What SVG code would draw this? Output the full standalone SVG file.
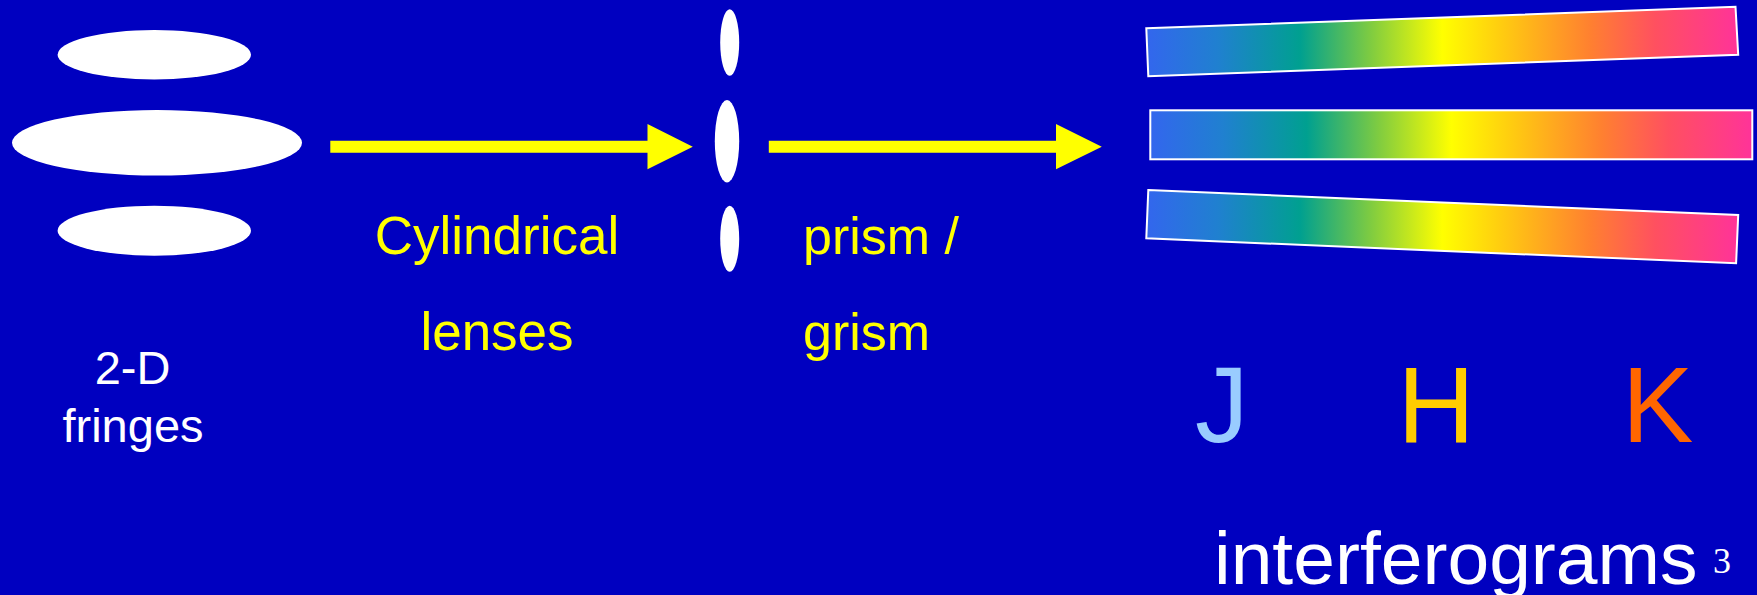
<svg xmlns="http://www.w3.org/2000/svg" width="1757" height="595" viewBox="0 0 1757 595">
<style>
.w{fill:#ffffff}
.y{fill:#ffff00}
.t{font-family:"Liberation Sans",Arial,sans-serif}
.bar{fill:url(#spec);stroke:#ffffff;stroke-width:2}
</style>
<defs>
<linearGradient id="spec" x1="0" y1="0" x2="1" y2="0">
<stop offset="0" stop-color="#3366ee"/>
<stop offset="0.12" stop-color="#2080d0"/>
<stop offset="0.26" stop-color="#00a090"/>
<stop offset="0.38" stop-color="#80cc40"/>
<stop offset="0.5" stop-color="#ffff00"/>
<stop offset="0.6" stop-color="#ffcc10"/>
<stop offset="0.75" stop-color="#ff8030"/>
<stop offset="0.86" stop-color="#ff5060"/>
<stop offset="1" stop-color="#ff3399"/>
</linearGradient>
</defs>
<rect width="1757" height="595" fill="#0000c0"/>
<g id="fringes">
<ellipse class="w" cx="154.3" cy="54.7" rx="96.7" ry="24.7"/>
<ellipse class="w" cx="157" cy="142.8" rx="145" ry="32.8"/>
<ellipse class="w" cx="154.3" cy="230.7" rx="96.7" ry="25"/>
<text class="t w" x="132.6" y="384" font-size="47" text-anchor="middle">2-D</text>
<text class="t w" x="133" y="442" font-size="47" text-anchor="middle">fringes</text>
</g>
<g id="lens-label">
<text class="t y" x="497" y="253.5" font-size="53" text-anchor="middle">Cylindrical</text>
<text class="t y" x="497" y="350" font-size="53" text-anchor="middle">lenses</text>
</g>
<g id="slits">
<ellipse class="w" cx="729.7" cy="42.5" rx="9.5" ry="33.2"/>
<ellipse class="w" cx="727" cy="141.2" rx="12.2" ry="41.2"/>
<ellipse class="w" cx="729.7" cy="238.7" rx="9.5" ry="33"/>
</g>
<g id="prism-label">
<text class="t y" x="803" y="253.5" font-size="52">prism /</text>
<text class="t y" x="803" y="350" font-size="52">grism</text>
</g>
<g id="spectra">
<polygon class="bar" points="1146.3,28.3 1735.5,6.7 1738.2,54.7 1148.3,76.3"/>
<rect class="bar" x="1150.3" y="110.3" width="602" height="49"/>
<polygon class="bar" points="1148.3,190 1738.2,215 1736.1,263.3 1146.3,238.3"/>
</g>
<g id="bands">
<text class="t" x="1195" y="441.7" font-size="107" fill="#99ccff">J</text>
<text class="t" x="1397.5" y="441.7" font-size="107" fill="#ffcc00">H</text>
<text class="t" x="1622" y="441.7" font-size="107" fill="#ff6600">K</text>
<text class="t w" x="1214" y="584" font-size="75">interferograms</text>
<text class="w" x="1713" y="573.3" font-size="36" font-family="'Liberation Serif','Times New Roman',serif">3</text>
</g>
<g id="connectors">
<polygon class="y" points="330.3,140.7 647.5,140.7 647.5,124 692.8,146.7 647.5,169.3 647.5,152.7 330.3,152.7"/>
<polygon class="y" points="768.8,140.7 1056,140.7 1056,124 1101.8,146.7 1056,169.3 1056,152.7 768.8,152.7"/>
</g>
</svg>
